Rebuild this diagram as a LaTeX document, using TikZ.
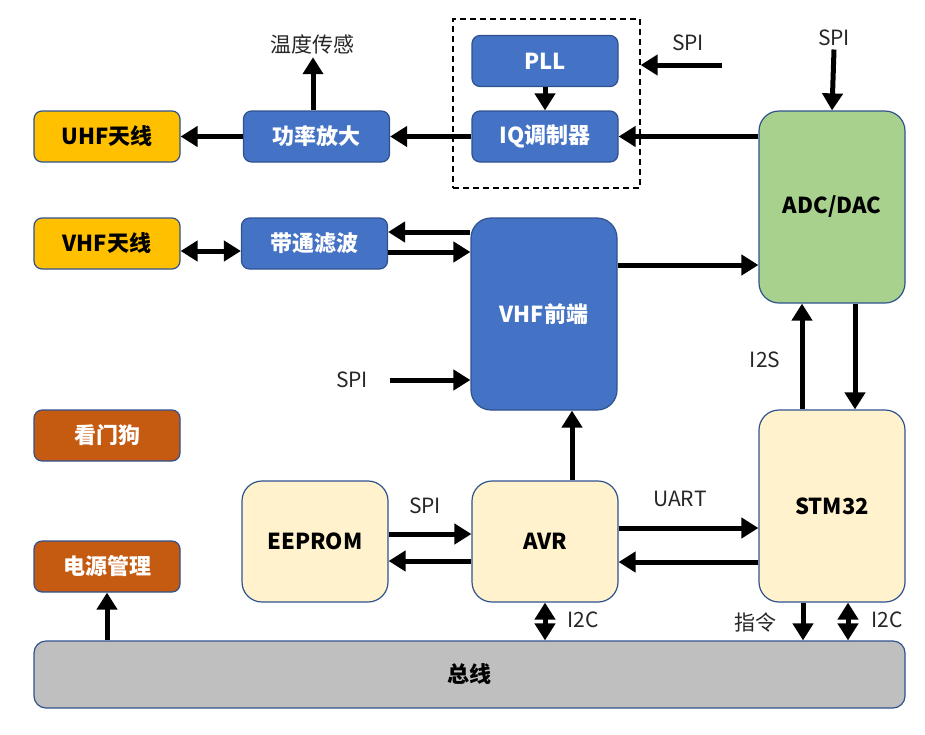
\documentclass[tikz,border=0pt]{standalone}
\usepackage{fontspec}
\setmainfont{Noto Sans CJK SC}
\usetikzlibrary{arrows.meta}
\definecolor{antyellow}{HTML}{FFC000}
\definecolor{rfblue}{HTML}{4472C4}
\definecolor{adcgreen}{HTML}{A9D18E}
\definecolor{mcucream}{HTML}{FFF2CC}
\definecolor{sysorange}{HTML}{C55A11}
\definecolor{busgray}{HTML}{BFBFBF}
\definecolor{edge}{HTML}{2F528F}
\begin{document}
\begin{tikzpicture}[x=1pt,y=-1pt,
  box/.style={draw=edge, line width=1.2pt, rounded corners=8pt, inner sep=0pt,
    font=\fontsize{22}{26}\selectfont\bfseries},
  small/.style={box, minimum width=146pt, minimum height=51pt},
  big/.style={box, rounded corners=20pt, minimum width=146pt, minimum height=192pt},
  mid/.style={box, rounded corners=20pt, minimum width=146pt, minimum height=121pt},
  arr/.style={line width=5pt, -{Triangle[length=17pt,width=20pt]}},
  darr/.style={line width=5pt, {Triangle[length=17pt,width=20pt]}-{Triangle[length=17pt,width=20pt]}},
  lbl/.style={font=\fontsize{21}{24}\selectfont, text=black!85}]
\useasboundingbox (0,0) rectangle (925,734);
% boxes
\node [small, fill=antyellow] (uhf) at (107,136.5) {UHF天线};
\node [small, fill=rfblue, text=white] (pa) at (316.5,136.5) {功率放大};
\node [small, fill=rfblue, text=white] (pll) at (545,61) {PLL};
\node [small, fill=rfblue, text=white] (iq) at (545,136.5) {IQ调制器};
\node [draw, dash pattern=on 6pt off 4pt, line width=1.3pt, minimum width=187pt, minimum height=169pt] (grp) at (546.5,103.5) {};
\node [big, fill=adcgreen] (adc) at (832,207) {ADC/DAC};
\node [small, fill=antyellow] (vant) at (107,243.5) {VHF天线};
\node [small, fill=rfblue, text=white] (bpf) at (314.5,243.5) {带通滤波};
\node [big, fill=rfblue, text=white] (vfe) at (544,314) {VHF前端};
\node [small, fill=sysorange, text=white] (wdg) at (107,435.5) {看门狗};
\node [small, fill=sysorange, text=white] (pwr) at (107,566.5) {电源管理};
\node [mid, fill=mcucream] (eeprom) at (315,541.5) {EEPROM};
\node [mid, fill=mcucream] (avr) at (545,541.5) {AVR};
\node [big, fill=mcucream] (stm) at (832,506) {STM32};
\node [box, fill=busgray, rounded corners=12pt, minimum width=871pt, minimum height=67pt] (bus) at (469.5,674.5) {总线};
% labels
\node [lbl] (temp) at (312,44) {温度传感};
\node [lbl] (spipll) at (688,43) {SPI};
\node [lbl] (spiadc) at (834,38) {SPI};
\node [lbl] (spivfe) at (352,380) {SPI};
\node [lbl] (spiee) at (425,506) {SPI};
\node [lbl] (uart) at (680,499) {UART};
\node [lbl] (i2s) at (765,360) {I2S};
\node [lbl] (i2cavr) at (583,620) {I2C};
\node [lbl] (cmd) at (755,623) {指令};
\node [lbl] (i2cstm) at (887,620) {I2C};
\coordinate (spiin) at (722,65);
% connectors
\draw [arr] ([xshift=-3.5pt]pa.north) -- ([xshift=-3.5pt]pa.north |- temp.south);
\draw [arr] (pa.west) -- (uhf.east);
\draw [arr] (iq.west) -- (pa.east);
\draw [arr] (pll.south) -- (iq.north);
\draw [arr] (iq.east -| adc.west) -- (iq.east);
\draw [arr] (spiin) -- (spiin -| grp.east);
\draw [arr] (spiadc.south) -- (adc.north);
\draw [darr] ([yshift=-7.5pt]vant.east) -- ([yshift=-7.5pt]bpf.west);
\draw [arr] ([yshift=11.5pt]bpf.east -| vfe.west) -- ([yshift=11.5pt]bpf.east);
\draw [arr] ([yshift=-8.5pt]bpf.east) -- ([yshift=-8.5pt]bpf.east -| vfe.west);
\draw [arr] ([yshift=-58pt]adc.west -| vfe.east) -- ([yshift=-58pt]adc.west);
\draw [arr] ([xshift=18pt]spivfe.east) -- (spivfe -| vfe.west);
\draw [arr] ([xshift=27pt]avr.north) -- ([xshift=27pt]avr.north |- vfe.south);
\draw [arr] ([yshift=7.5pt]eeprom.east) -- ([yshift=7.5pt]eeprom.east -| avr.west);
\draw [arr] ([yshift=-19.5pt]avr.west) -- ([yshift=-19.5pt]avr.west -| eeprom.east);
\draw [arr] ([yshift=13.5pt]avr.east) -- ([yshift=13.5pt]avr.east -| stm.west);
\draw [arr] ([yshift=-20.5pt]avr.east -| stm.west) -- ([yshift=-20.5pt]avr.east);
\draw [arr] ([xshift=-30pt]stm.north) -- ([xshift=-30pt]stm.north |- adc.south);
\draw [arr] ([xshift=23pt]adc.south) -- ([xshift=23pt]adc.south |- stm.north);
\draw [darr] (avr.south) -- (avr.south |- bus.north);
\draw [arr] ([xshift=-29pt]stm.south) -- ([xshift=-29pt]stm.south |- bus.north);
\draw [darr] ([xshift=16pt]stm.south) -- ([xshift=16pt]stm.south |- bus.north);
\draw [arr] (pwr.south |- bus.north) -- (pwr.south);
\end{tikzpicture}
\end{document}
